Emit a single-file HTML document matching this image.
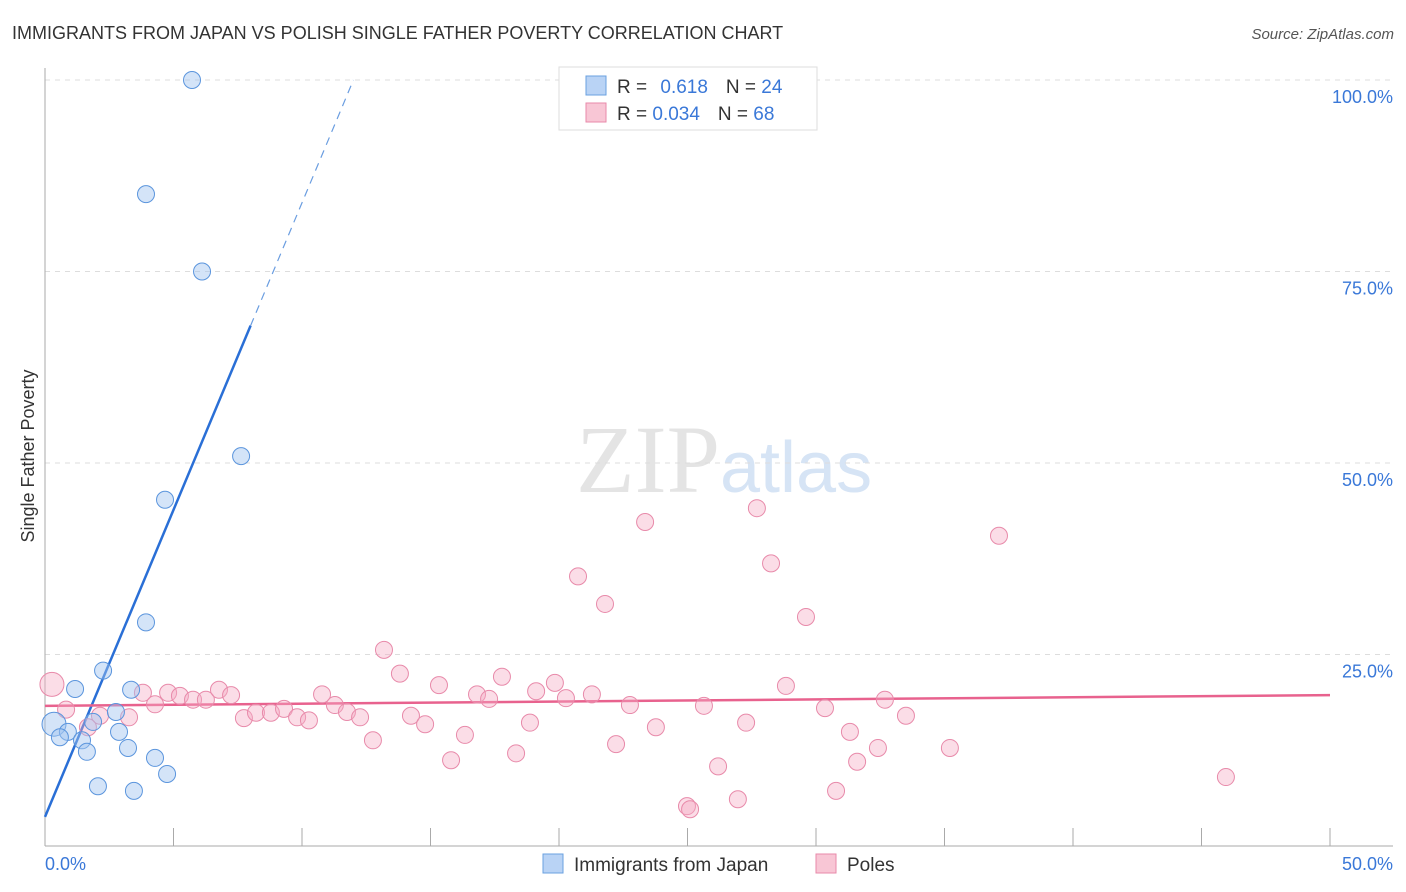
<!DOCTYPE html>
<html><head><meta charset="utf-8"><style>
body{margin:0;background:#fff;font-family:"Liberation Sans",sans-serif;}
svg{display:block}
</style></head><body>
<svg width="1406" height="892">
<text x="12" y="39" font-size="18" fill="#333">IMMIGRANTS FROM JAPAN VS POLISH SINGLE FATHER POVERTY CORRELATION CHART</text>
<text x="1394" y="39" font-size="15" fill="#555" font-style="italic" text-anchor="end">Source: ZipAtlas.com</text>
<text x="720" y="492" font-size="96" fill="#e4e4e4" text-anchor="end" font-family="Liberation Serif">ZIP</text>
<text x="720" y="492" font-size="72" fill="#d6e4f5">atlas</text>
<g id="grid"></g><g id="axes"></g><g id="trend"></g><g id="pts"></g>
<text transform="translate(34,456) rotate(-90)" font-size="18" fill="#333" text-anchor="middle">Single Father Poverty</text>
<text x="45" y="870" font-size="18" fill="#3a78d8">0.0%</text>
<text x="1393" y="870" font-size="18" fill="#3a78d8" text-anchor="end">50.0%</text>
<g>
<rect x="559" y="67" width="258" height="63" fill="#fff" stroke="#ddd"/>
<rect x="586" y="76" width="20" height="19" fill="#b9d3f5" stroke="#6aa0e0"/>
<rect x="586" y="103" width="20" height="19" fill="#f8c6d5" stroke="#e88aaa"/>
<text x="617" y="93" font-size="19" fill="#333">R = <tspan fill="#3a78d8" dx="8">0.618</tspan><tspan dx="18" fill="#333">N = </tspan><tspan fill="#3a78d8">24</tspan></text>
<text x="617" y="120" font-size="19" fill="#333">R = <tspan fill="#3a78d8">0.034</tspan><tspan dx="18" fill="#333">N = </tspan><tspan fill="#3a78d8">68</tspan></text>
</g>
<g>
<rect x="543" y="854" width="20" height="19" fill="#b9d3f5" stroke="#6aa0e0"/>
<text x="574" y="871" font-size="19" fill="#333">Immigrants from Japan</text>
<rect x="816" y="854" width="20" height="19" fill="#f8c6d5" stroke="#e88aaa"/>
<text x="847" y="871" font-size="19" fill="#333">Poles</text>
</g>
</svg>
<script>
const yTicks=[25,50,75,100];
const yTickLabels=["25.0%","50.0%","75.0%","100.0%"];
const xTicks=[0,5,10,15,20,25,30,35,40,45,50];
const japanX=[5.72,3.93,6.11,7.63,4.67,3.93,2.26,1.17,3.35,2.76,1.87,0.35,0.89,0.58,1.44,2.88,3.23,1.63,4.28,4.75,2.06,3.46];
const japanY=[100,85.1,75,50.9,45.2,29.2,22.9,20.5,20.4,17.5,16.2,15.9,14.9,14.2,13.8,14.9,12.8,12.3,11.5,9.4,7.8,7.2];
const polesX=[0.27,0.82,2.14,1.67,3.27,3.81,4.79,4.28,5.25,5.76,6.26,6.77,7.24,7.74,8.21,8.79,9.30,9.81,10.27,10.78,11.28,11.75,12.26,12.76,13.19,13.81,14.24,14.79,15.33,15.80,16.34,16.81,17.28,17.78,18.33,18.87,19.11,19.84,20.27,20.74,21.28,21.79,22.22,22.76,23.35,23.77,24.98,25.10,25.64,26.19,26.96,27.28,27.70,28.25,28.83,29.61,30.35,30.78,31.32,31.60,32.41,32.68,33.50,35.21,37.12,45.95];
const polesY=[21.1,17.8,17.0,15.5,16.8,20.0,20.0,18.5,19.6,19.1,19.1,20.4,19.7,16.7,17.4,17.4,17.9,16.8,16.4,19.8,18.4,17.5,16.8,13.8,25.6,22.5,17.0,15.9,21.0,11.2,14.5,19.8,19.2,22.1,12.1,16.1,20.2,21.3,19.3,35.2,19.8,31.6,13.3,18.4,42.3,15.5,5.2,4.8,18.3,10.4,6.1,16.1,44.1,36.9,20.9,29.9,18.0,7.2,14.9,11.0,12.8,19.1,17.0,12.8,40.5,9.0];
const japanTrend=[0,3.8,12,100];   // x0,y0,x1,y1
const polesTrend=[0,18.3,50,19.7];
const X=v=>45+v*25.7, Y=v=>846-v*7.66;
const NS="http://www.w3.org/2000/svg";
function mk(parent,tag,attrs){const e=document.createElementNS(NS,tag);for(const k in attrs)e.setAttribute(k,attrs[k]);document.getElementById(parent).appendChild(e);return e;}
yTicks.forEach((t,i)=>{
 const l=mk('grid','line',{x1:45,x2:1393,y1:Y(t),y2:Y(t),stroke:'#ddd','stroke-dasharray':'5,5'});
 
 
 const tx=mk('grid','text',{x:1393,y:Y(t)+23,'font-size':18,fill:'#3a78d8','text-anchor':'end'});
 tx.textContent=yTickLabels[i];
 
 
});
const ax=mk('axes','line',{x1:45,x2:45,y1:68,y2:846,stroke:'#aaa'});


const bx=mk('axes','line',{x1:45,x2:1393,y1:846,y2:846,stroke:'#aaa'});


xTicks.forEach(t=>{const k=mk('axes','line',{x1:X(t),x2:X(t),y1:828,y2:846,stroke:'#aaa'});
 
 });
// japan trend: solid to x=8, dashed beyond
const jy=x=>japanTrend[1]+(japanTrend[3]-japanTrend[1])*(x-japanTrend[0])/(japanTrend[2]-japanTrend[0]);
const t1=mk('trend','line',{x1:X(japanTrend[0]),y1:Y(jy(japanTrend[0])),x2:X(8),y2:Y(jy(8)),stroke:'#2a6fd6','stroke-width':2.5});


const t2=mk('trend','line',{x1:X(8),y1:Y(jy(8)),x2:X(japanTrend[2]),y2:Y(japanTrend[3]),stroke:'#6a9de0','stroke-width':1.2,'stroke-dasharray':'8,6'});


const t3=mk('trend','line',{x1:X(polesTrend[0]),y1:Y(polesTrend[1]),x2:X(polesTrend[2]),y2:Y(polesTrend[3]),stroke:'#e8628e','stroke-width':2.5});


polesX.forEach((x,i)=>{const c=mk('pts','circle',{cx:X(x),cy:Y(polesY[i]),r:i==0?12:8.5,fill:'rgba(245,170,195,0.4)',stroke:'#e88aaa','stroke-width':1});
 
 });
japanX.forEach((x,i)=>{const c=mk('pts','circle',{cx:X(x),cy:Y(japanY[i]),r:i==11?12:8.5,fill:'rgba(160,195,240,0.45)',stroke:'#5b95dd','stroke-width':1});
 
 });
</script>
</body></html>
